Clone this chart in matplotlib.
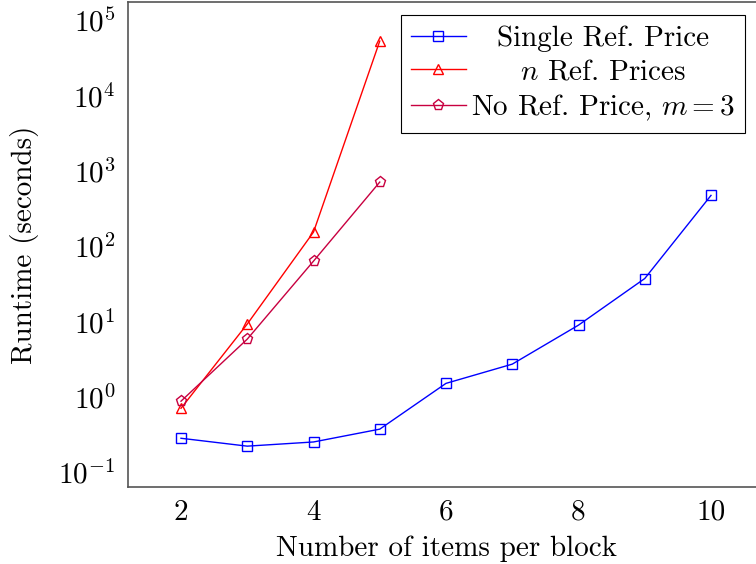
import matplotlib
matplotlib.use('Agg')
import matplotlib.pyplot as plt

# runtime data
items = [2, 3, 4, 5, 6, 7, 8, 9, 10]
single_ref = [0.28, 0.22, 0.25, 0.37, 1.5, 2.7, 8.9, 37, 470]

items_short = [2, 3, 4, 5]
n_ref = [0.70, 9.2, 153, 52600]
no_ref_m3 = [0.87, 5.8, 63, 706]

labels = ['Single Ref. Price', r'$n$ Ref. Prices', r'No Ref. Price, $m = 3$']

plt.rcParams['font.family'] = 'serif'
plt.rcParams['font.serif'] = ['cmr10']
plt.rcParams['mathtext.fontset'] = 'cm'
plt.rcParams['axes.formatter.use_mathtext'] = True
plt.rcParams['font.size'] = 21

fig = plt.figure(figsize=(7.56, 5.64), dpi=100)
# axes runs past the right edge, like the cropped original
ax = fig.add_axes([128 / 756, 77 / 564, 636 / 756, 485 / 564])

ax.plot(items, single_ref, color='blue', lw=1, marker='s', ms=7.5,
        mfc='none', mec='blue', mew=1, label=labels[0])
ax.plot(items_short, n_ref, color='red', lw=1, marker='^', ms=7,
        mfc='none', mec='red', mew=1, label=labels[1])
ax.plot(items_short, no_ref_m3, color='#c80040', lw=1, marker='p', ms=8,
        mfc='none', mec='#c80040', mew=1, label=labels[2])

ax.set_yscale('log')
ax.set_xlim(1.2, 10.8)
ax.set_ylim(10 ** -1.2, 10 ** 5.24)
ax.set_xticks([2, 4, 6, 8, 10])
ax.set_yticks([1e-1, 1e0, 1e1, 1e2, 1e3, 1e4, 1e5])
ax.minorticks_off()
ax.tick_params(length=0, pad=9)
ax.set_xticklabels(['2', '4', '6', '8', '10'])

for s in ax.spines.values():
    s.set_color('#555555')
    s.set_linewidth(1.2)

ax.set_xlabel('Number of items per block', labelpad=7)
ax.set_ylabel('Runtime (seconds)', labelpad=14)

leg = ax.legend(loc='upper right', bbox_to_anchor=(0.97, 0.973), borderaxespad=0,
                fancybox=False, edgecolor='black', framealpha=1,
                handlelength=1.9, handletextpad=0.15, borderpad=0.35, labelspacing=0.25)
leg.get_frame().set_linewidth(0.8)

# centre the legend texts in their column, as pgfplots does
fig.canvas.draw()
renderer = fig.canvas.get_renderer()
widths = [t.get_window_extent(renderer).width for t in leg.get_texts()]
for t, w in zip(leg.get_texts(), widths):
    t.set_position(((max(widths) - w) / 2, 0))

fig.savefig('out.png', dpi=100)
